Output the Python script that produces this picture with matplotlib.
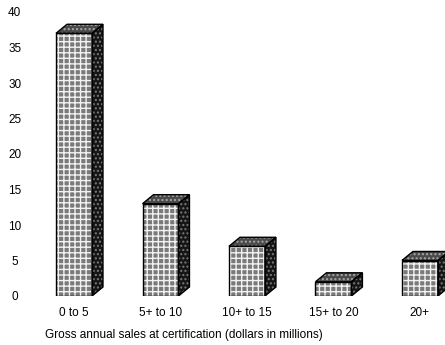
import numpy as np
import matplotlib
matplotlib.use('Agg')
import matplotlib.pyplot as plt
from matplotlib.patches import Polygon

#************ data ******************
categories=['0 to 5','5+ to 10','10+ to 15','15+ to 20','20+']
counts=[37,13,7,2,5]
yticks=[0,5,10,15,20,25,30,35,40]
xlabel='Gross annual sales at certification (dollars in millions)'
#************************************

fontsize=8.5
plt.rcParams['font.family']=['Liberation Sans','DejaVu Sans']
plt.rcParams['hatch.linewidth']=1.0

fig=plt.figure(figsize=(4.45,3.45),dpi=100)
ax=fig.add_axes([30/445.,49/345.,415/445.,284/345.])

x=np.arange(len(categories))
width=0.416
dx=0.127	# depth offset of the box, x units
dy=1.27		# depth offset of the box, y units

# front faces
ax.bar(x,counts,width=width,color='#7a7a7a',edgecolor='#f2f2f2',hatch='+++',linewidth=0,zorder=2)
ax.bar(x,counts,width=width,fill=False,edgecolor='black',linewidth=1.0,zorder=3)

for xi,h in zip(x,counts):
	l=xi-width/2.
	r=xi+width/2.
	side=Polygon([[r,0],[r+dx,dy],[r+dx,h+dy],[r,h]],closed=True,
			facecolor='#151515',edgecolor='#7a7a7a',hatch='....',linewidth=0,zorder=2)
	top=Polygon([[l,h],[l+dx,h+dy],[r+dx,h+dy],[r,h]],closed=True,
			facecolor='#4a4a4a',edgecolor='#a8a8a8',hatch='....',linewidth=0,zorder=2)
	ax.add_patch(side)
	ax.add_patch(top)
	for p in (side,top):
		ax.add_patch(Polygon(p.get_xy(),closed=True,fill=False,edgecolor='black',linewidth=1.0,zorder=3))

ax.set_xlim(-0.509,4.29)
ax.set_ylim(0,40)
ax.set_xticks(x)
ax.set_xticklabels(categories,fontsize=fontsize)
ax.set_yticks(yticks)
ax.set_yticklabels([str(v) for v in yticks],fontsize=fontsize,ha='center')
ax.tick_params(axis='both',length=0)
ax.tick_params(axis='x',pad=8)
ax.tick_params(axis='y',pad=11)
for s in ax.spines.values():
	s.set_visible(False)

fig.text(45/445.,1-335/345.,xlabel,fontsize=fontsize,ha='left',va='center')

fig.savefig('out.png',dpi=100)
